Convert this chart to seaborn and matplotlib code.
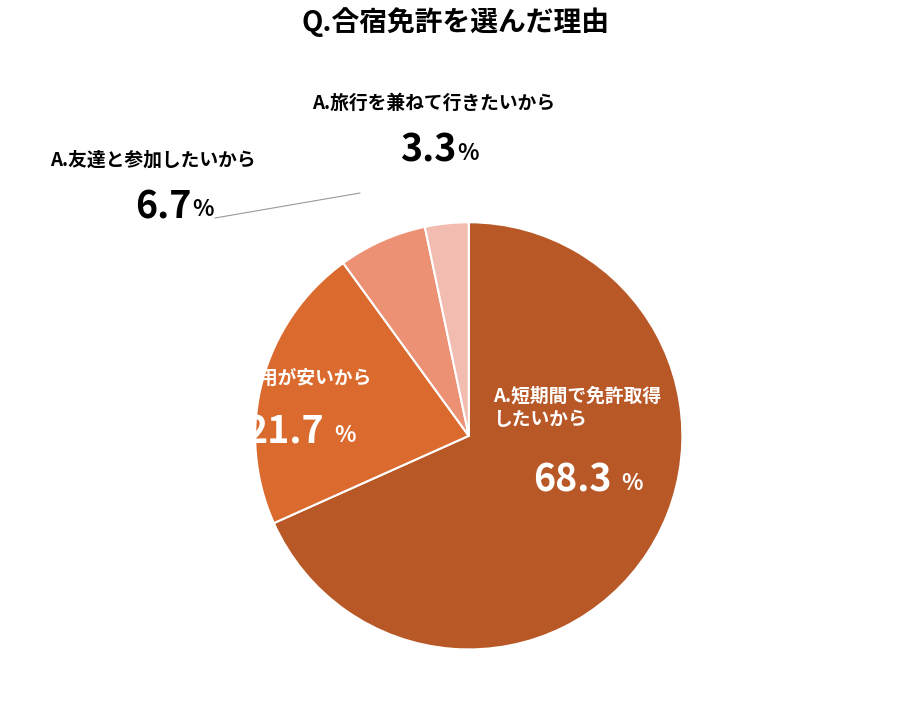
import matplotlib.pyplot as plt
import seaborn as sns

sns.set_theme(style="white", font="Noto Sans CJK JP")

labels = ["A.短期間で免許取得\nしたいから", "A.費用が安いから", "A.友達と参加したいから", "A.旅行を兼ねて行きたいから"]
values = [68.3, 21.7, 6.7, 3.3]
colors = sns.color_palette(["#B85827", "#DA6A2E", "#EC9174", "#F2BCB0"])

W, H = 912, 711
fig = plt.figure(figsize=(W / 100, H / 100), dpi=100)
ax = fig.add_axes([0.221, 0.0115, 0.586, 0.751])
ax.pie(values, colors=colors, startangle=90, counterclock=False,
       wedgeprops=dict(edgecolor="white", linewidth=1.5))
ax.set_aspect("equal")


def px(x, y):
    return x / W, 1 - y / H


def put(x, y, text, **kw):
    fig.text(*px(x, y), text, fontweight="bold", **kw)


put(456, 22, "Q.合宿免許を選んだ理由", fontsize=20, ha="center", va="center", color="black")

# label, pct position, text colour
spots = [
    ((493, 408), (533, 480), "white"),
    ((222, 378), (246, 432), "white"),
    ((50, 160), (135, 207), "black"),
    ((312, 103), (400, 150), "black"),
]
for lab, v, (lp, pp, c) in zip(labels, values, spots):
    put(lp[0], lp[1], lab, fontsize=13.5, ha="left", va="center", color=c, linespacing=1.3)
    put(pp[0], pp[1], f"{v}", fontsize=27, ha="left", va="center", color=c)
    nx = pp[0] + (len(f"{v}") * 22 if len(f"{v}") > 3 else 57)
    put(nx, pp[1] + 3, "%", fontsize=16, ha="left", va="center", color=c)

# leader line for 6.7%
fig.add_artist(plt.Line2D([px(215, 218)[0], px(360, 193)[0]],
                          [px(215, 218)[1], px(360, 193)[1]],
                          color="#999999", linewidth=0.8))

fig.savefig("out.png", dpi=100, facecolor="white")
